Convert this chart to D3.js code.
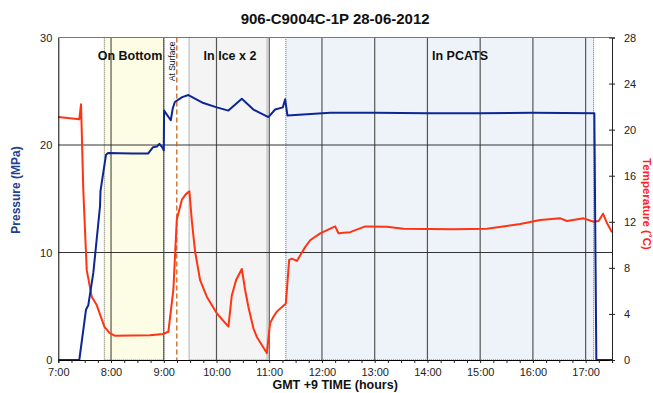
<!DOCTYPE html>
<html>
<head>
<meta charset="utf-8">
<script src="https://cdn.jsdelivr.net/npm/d3@7"></script>
<style>
  html, body { margin: 0; padding: 0; background: #fff; }
  svg { display: block; }
</style>
</head>
<body>
<div id="chart"></div>
<script>
(function () {
  "use strict";

  var FONT = "'Liberation Sans', Arial, Helvetica, sans-serif";

  // Pressure (MPa) — time in decimal hours (GMT +9)
  var pressureTime = [7.0, 7.398, 7.526, 7.569, 7.664, 7.791, 7.80, 7.824, 7.905, 7.943, 8.40, 8.702,
    8.797, 8.871, 8.917, 8.968, 9.0, 9.006, 9.133, 9.17, 9.21, 9.35, 9.467, 9.751, 10.006, 10.226,
    10.480, 10.700, 10.985, 11.112, 11.258, 11.302, 11.345, 12.156, 13.0, 14.0, 15.0, 16.0,
    17.165, 17.203, 17.5];
  var pressureVal = [0, 0, 4.7, 5.1, 8.1, 14.3, 15.7, 16.5, 19.1, 19.25, 19.2, 19.2,
    19.8, 19.86, 20.1, 19.8, 19.5, 23.2, 22.3, 23.4, 24.0, 24.45, 24.65, 23.9, 23.5, 23.2,
    24.3, 23.3, 22.6, 23.3, 23.5, 24.25, 22.75, 23.0, 23.0, 22.95, 22.95, 23.0,
    22.95, 0, 0];

  // Temperature (°C)
  var tempTime = [7.0, 7.398, 7.431, 7.474, 7.539, 7.634, 7.729, 7.873, 7.97, 8.076, 8.740, 8.987,
    9.087, 9.182, 9.247, 9.342, 9.42, 9.486, 9.531, 9.594, 9.689, 9.816, 10.006, 10.226, 10.290,
    10.372, 10.480, 10.543, 10.605, 10.700, 10.765, 10.954, 11.017, 11.08, 11.144, 11.315, 11.378,
    11.429, 11.524, 11.681, 11.776, 11.966, 12.250, 12.313, 12.408, 12.535, 12.820, 13.231,
    13.546, 14.495, 15.129, 15.761, 16.140, 16.520, 16.647, 16.962, 17.152, 17.247, 17.330,
    17.406, 17.5];
  var tempVal = [21.1, 20.9, 22.2, 14.75, 7.8, 5.5, 4.77, 2.9, 2.35, 2.1, 2.15, 2.26,
    2.45, 6.1, 12.2, 13.9, 14.4, 14.65, 12.15, 9.4, 6.94, 5.5, 4.05, 2.9, 5.6,
    6.94, 7.9, 6.08, 4.6, 2.75, 2.0, 0.6, 3.2, 3.76, 4.2, 4.9, 8.7,
    8.8, 8.6, 9.8, 10.4, 11.0, 11.6, 11.0, 11.05, 11.1, 11.6, 11.57,
    11.4, 11.35, 11.4, 11.8, 12.15, 12.3, 12.07, 12.3, 12.0, 12.07, 12.7,
    11.87, 11.1];

  // Shaded phases
  var phaseNames = ["On Bottom", "In Ice x 2", "In PCATS"];
  var phaseStart = [7.873, 9.48, 11.315];
  var phaseEnd = [9.0, 10.96, 17.152];
  var phaseFill = ["#fdfde6", "#f4f4f4", "#eef3fa"];
  var surfaceTime = 9.247;

  var hourTicks = [7, 8, 9, 10, 11, 12, 13, 14, 15, 16, 17];
  var pressureTicks = [0, 10, 20, 30];
  var tempTicks = [0, 4, 8, 12, 16, 20, 24, 28];

  var W = 653, H = 393;
  var M = { top: 37.5, right: 41, bottom: 33, left: 58.3 };
  var width = W - M.left - M.right;
  var height = H - M.top - M.bottom;

  var svg = d3.select("#chart").append("svg")
    .attr("width", W).attr("height", H)
    .style("background", "#fff");

  var x = d3.scaleLinear().domain([7, 17.5]).range([0, width]);
  var yP = d3.scaleLinear().domain([0, 30]).range([height, 0]);
  var yT = d3.scaleLinear().domain([0, 28]).range([height, 0]);

  var g = svg.append("g").attr("transform", "translate(" + M.left + "," + M.top + ")");

  // Phase shading
  phaseNames.forEach(function (name, i) {
    var x0 = x(phaseStart[i]), x1 = x(phaseEnd[i]);
    g.append("rect")
      .attr("x", x0).attr("y", 0)
      .attr("width", x1 - x0).attr("height", height)
      .attr("fill", phaseFill[i])
      .attr("stroke", "#444").attr("stroke-width", 0.8)
      .attr("stroke-dasharray", "1,1");
  });

  // Gridlines
  hourTicks.forEach(function (h) {
    if (h === 7) return;
    g.append("line")
      .attr("x1", x(h)).attr("x2", x(h))
      .attr("y1", 0).attr("y2", height)
      .attr("stroke", "#555").attr("stroke-width", 1.2);
  });
  pressureTicks.forEach(function (v) {
    if (v === 0) return;
    g.append("line")
      .attr("x1", 0).attr("x2", width)
      .attr("y1", yP(v)).attr("y2", yP(v))
      .attr("stroke", v === 30 ? "#777" : "#333").attr("stroke-width", 1);
  });

  // At Surface marker
  g.append("line")
    .attr("x1", x(surfaceTime)).attr("x2", x(surfaceTime))
    .attr("y1", 0).attr("y2", height)
    .attr("stroke", "#c8641e").attr("stroke-width", 1.3)
    .attr("stroke-dasharray", "5,3");
  g.append("text")
    .attr("transform", "translate(" + (x(surfaceTime) - 2) + ",4) rotate(-90)")
    .attr("text-anchor", "end")
    .attr("font-family", FONT).attr("font-size", "8.5px")
    .attr("fill", "#111")
    .text("At Surface");

  // Phase labels
  phaseNames.forEach(function (name, i) {
    var cx = [130, 230, 460][i] - M.left;
    g.append("text")
      .attr("x", cx).attr("y", 22.5)
      .attr("text-anchor", "middle")
      .attr("font-family", FONT).attr("font-size", "12.5px").attr("font-weight", "700")
      .attr("fill", "#111")
      .text(name);
  });

  // Lines
  var pressurePts = pressureTime.map(function (t, i) { return [t, pressureVal[i]]; });
  var tempPts = tempTime.map(function (t, i) { return [t, tempVal[i]]; });

  g.append("path")
    .datum(tempPts)
    .attr("fill", "none")
    .attr("stroke", "#ff3412").attr("stroke-width", 2)
    .attr("stroke-linejoin", "round")
    .attr("d", d3.line().x(function (d) { return x(d[0]); }).y(function (d) { return yT(d[1]); }));

  g.append("path")
    .datum(pressurePts)
    .attr("fill", "none")
    .attr("stroke", "#0c2694").attr("stroke-width", 2)
    .attr("stroke-linejoin", "round")
    .attr("d", d3.line().x(function (d) { return x(d[0]); }).y(function (d) { return yP(d[1]); }));

  // Axes
  var xAxis = g.append("g").attr("transform", "translate(0," + height + ")")
    .call(d3.axisBottom(x)
      .tickValues(d3.range(7, 17.51, 0.25))
      .tickSize(3)
      .tickFormat(function (d) { return Number.isInteger(d) ? d + ":00" : ""; }));
  xAxis.select(".domain").attr("stroke", "#000");
  xAxis.selectAll(".tick line").attr("stroke", "#222");
  xAxis.selectAll(".tick text")
    .attr("font-family", FONT).attr("font-size", "11px").attr("fill", "#222").attr("dy", "0.95em");

  var yAxisL = g.append("g")
    .call(d3.axisLeft(yP).tickValues(pressureTicks).tickSize(0).tickPadding(6));
  yAxisL.select(".domain").attr("stroke", "#000");
  yAxisL.selectAll(".tick text")
    .attr("font-family", FONT).attr("font-size", "11px").attr("fill", "#222");

  var yAxisR = g.append("g").attr("transform", "translate(" + width + ",0)")
    .call(d3.axisRight(yT).tickValues(tempTicks).tickSize(3).tickPadding(9));
  yAxisR.select(".domain").attr("stroke", "#222");
  yAxisR.selectAll(".tick line").attr("stroke", "#222").attr("x1", -3);
  yAxisR.selectAll(".tick text")
    .attr("font-family", FONT).attr("font-size", "11px").attr("fill", "#222");

  // Titles
  svg.append("text")
    .attr("x", M.left + width / 2).attr("y", 24)
    .attr("text-anchor", "middle")
    .attr("font-family", FONT).attr("font-size", "15px").attr("font-weight", "700")
    .attr("fill", "#111")
    .text("906-C9004C-1P 28-06-2012");

  svg.append("text")
    .attr("x", M.left + width / 2).attr("y", 389)
    .attr("text-anchor", "middle")
    .attr("font-family", FONT).attr("font-size", "12.5px").attr("font-weight", "700")
    .attr("fill", "#111")
    .text("GMT +9 TIME (hours)");

  svg.append("text")
    .attr("transform", "translate(20,190) rotate(-90)")
    .attr("text-anchor", "middle")
    .attr("font-family", FONT).attr("font-size", "12px").attr("font-weight", "700")
    .attr("fill", "#1f3f8f")
    .text("Pressure (MPa)");

  svg.append("text")
    .attr("transform", "translate(643,204) rotate(90)")
    .attr("text-anchor", "middle")
    .attr("font-family", FONT).attr("font-size", "11.5px").attr("font-weight", "700")
    .attr("fill", "#ff2020")
    .text("Temperature (˚C)");
})();
</script>
</body>
</html>
